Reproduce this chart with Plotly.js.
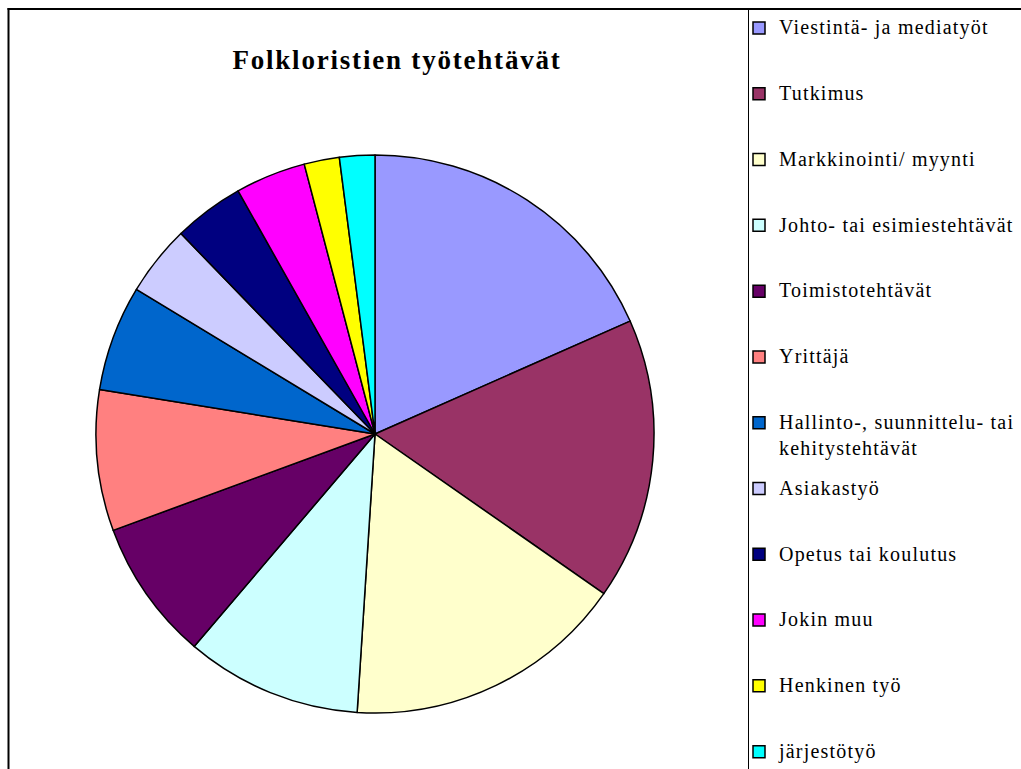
<!DOCTYPE html>
<html>
<head>
<meta charset="utf-8">
<script src="https://cdn.plot.ly/plotly-3.0.1.min.js"></script>
<style>
  html, body { margin: 0; padding: 0; background: #fff; }
  #chart { width: 1021px; height: 769px; }
  .legendtext { font-family: "Liberation Serif", "Times New Roman", serif !important; font-size: 20px !important; letter-spacing: 1.2px; }
  .gtitle { font-family: "Liberation Serif", "Times New Roman", serif !important; letter-spacing: 1.8px; }
</style>
</head>
<body>
<div id="chart"></div>
<script>
// ---- data (counts) ----
const categories = [
  "Viestintä- ja mediatyöt",
  "Tutkimus",
  "Markkinointi/ myynti",
  "Johto- tai esimiestehtävät",
  "Toimistotehtävät",
  "Yrittäjä",
  "Hallinto-, suunnittelu- tai kehitystehtävät",
  "Asiakastyö",
  "Opetus tai koulutus",
  "Jokin muu",
  "Henkinen työ",
  "järjestötyö"
];
const counts = [9, 8, 8, 5, 4, 4, 3, 2, 2, 2, 1, 1];
const sliceColors = [
  "#9999FF", "#993366", "#FFFFCC", "#CCFFFF", "#660066", "#FF8080",
  "#0066CC", "#CCCCFF", "#000080", "#FF00FF", "#FFFF00", "#00FFFF"
];
const chartTitle = "Folkloristien työtehtävät";

// ---- legend display labels (wrap + spacing lines) ----
const NB = "\u00a0";
const legendLabels = categories.map((c, i) => {
  let t = c.replace("tai kehitystehtävät", "tai<br>kehitystehtävät");
  const lines = t.split("<br>").length;
  if (i === categories.length - 1) return t;
  for (let k = lines; k < 3; k++) t += "<br>" + NB;
  return t;
});

const W = 1021, H = 769;
const px = x => x / W;
const py = y => 1 - y / H;

const cx = 375, cy = 434, r = 279;
const serif = "Liberation Serif, Times New Roman, serif";

const trace = {
  type: "pie",
  labels: legendLabels,
  values: counts,
  sort: false,
  direction: "clockwise",
  rotation: 0,
  textinfo: "none",
  hoverinfo: "label+value+percent",
  marker: { colors: sliceColors, line: { color: "#000000", width: 1.5 } },
  domain: { x: [px(cx - r), px(cx + r)], y: [py(cy + r), py(cy - r)] }
};

const layout = {
  width: W, height: H,
  margin: { l: 0, r: 0, t: 0, b: 0, pad: 0 },
  paper_bgcolor: "#ffffff",
  plot_bgcolor: "#ffffff",
  font: { family: serif, color: "#000" },
  title: {
    text: chartTitle,
    x: px(397), xanchor: "center",
    y: py(59.5), yanchor: "middle",
    font: { family: serif, size: 27, color: "#000", weight: "bold" }
  },
  showlegend: true,
  legend: {
    x: px(739), xanchor: "left",
    y: py(11.4), yanchor: "top",
    valign: "top",
    bgcolor: "rgba(0,0,0,0)",
    borderwidth: 0,
    itemwidth: 30,
    font: { family: serif, size: 16.1, color: "#000" },
    itemclick: false, itemdoubleclick: false
  },
  shapes: [
    { type: "line", xref: "paper", yref: "paper", x0: px(8.5), x1: px(8.5), y0: 0, y1: py(8), line: { color: "#000", width: 2 } },
    { type: "line", xref: "paper", yref: "paper", x0: px(7.5), x1: 1, y0: py(9), y1: py(9), line: { color: "#000", width: 2 } },
    { type: "line", xref: "paper", yref: "paper", x0: px(748.5), x1: px(748.5), y0: 0, y1: py(9), line: { color: "#000", width: 1 } }
  ]
};

Plotly.newPlot("chart", [trace], layout, { displayModeBar: false, staticPlot: true });
</script>
</body>
</html>
